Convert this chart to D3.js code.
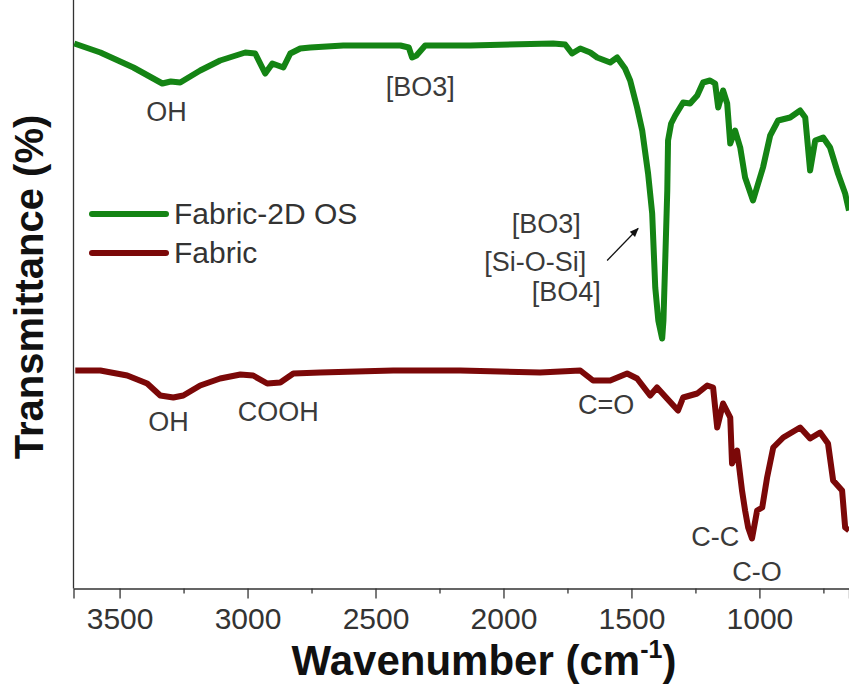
<!DOCTYPE html>
<html>
<head>
<meta charset="utf-8">
<script src="https://cdn.jsdelivr.net/npm/d3@7"></script>
<style>
  body { margin: 0; background: #fff; }
  svg text { font-family: "Liberation Sans", Arial, sans-serif; }
</style>
</head>
<body>
<div id="chart"></div>
<script>
// FTIR spectra, wavenumber (cm-1) and transmittance (arbitrary, offset)
var wnGreen = [3677, 3575, 3446, 3333, 3300, 3263, 3185, 3107, 3009, 2970, 2931, 2903, 2860, 2833, 2794, 2755, 2626,
    2403, 2370, 2357, 2340, 2306, 2130, 1806, 1759, 1732, 1700, 1661, 1634, 1583, 1556, 1525, 1505, 1478, 1458,
    1435, 1419, 1407, 1395, 1380, 1375, 1368, 1360, 1357, 1345, 1329, 1298, 1271, 1243, 1220, 1193, 1173, 1161,
    1142, 1126, 1114, 1095, 1075, 1056, 1025, 1005, 986, 958, 927, 880, 841, 821, 802, 782, 751, 724, 693, 665, 650];
var tGreen = [109.0, 107.2, 104.2, 101.0, 101.4, 101.2, 103.6, 105.6, 107.2, 107.0, 103.0, 105.0, 104.2, 107.0, 108.0, 108.2, 108.6,
    108.6, 108.2, 106.2, 106.6, 108.6, 108.6, 109.0, 108.8, 107.0, 108.0, 107.2, 106.2, 105.2, 106.2, 104.0, 101.6, 96.2, 91.6,
    83.0, 75.0, 60.2, 53.6, 50.0, 53.6, 65.6, 79.6, 89.6, 93.0, 94.6, 97.2, 97.0, 98.6, 101.2, 101.6, 101.0, 96.2,
    99.6, 97.0, 89.0, 91.6, 88.2, 82.2, 77.6, 81.0, 84.2, 90.6, 93.6, 94.2, 95.6, 94.2, 83.6, 89.6, 90.2, 88.2, 83.0, 79.0, 75.6];

var wnFabric = [3673, 3575, 3470, 3392, 3341, 3290, 3251, 3185, 3107, 3028, 2978, 2923, 2872, 2821, 2716, 2431, 2169,
    1857, 1700, 1650, 1583, 1517, 1478, 1427, 1400, 1361, 1318, 1298, 1243, 1204, 1181, 1165, 1142, 1114, 1107,
    1087, 1068, 1056, 1044, 1029, 1009, 989, 970, 946, 907, 841, 802, 763, 732, 712, 677, 665, 650];
var tFabric = [43.6, 43.6, 42.6, 41.0, 38.6, 38.2, 38.6, 40.6, 42.0, 42.8, 42.6, 41.0, 41.2, 43.0, 43.2, 43.6, 43.6,
    43.2, 43.6, 41.6, 41.6, 43.0, 42.0, 38.6, 40.2, 38.0, 35.6, 38.2, 39.0, 40.6, 40.2, 32.2, 37.0, 34.2, 25.0,
    27.6, 19.6, 15.6, 12.2, 10.0, 15.6, 16.2, 22.2, 28.2, 30.2, 32.2, 30.0, 31.2, 29.0, 21.6, 19.6, 12.2, 11.6];

var seriesNames = ['Fabric-2D OS', 'Fabric'];
var seriesColors = ['#148414', '#7b0808'];
var xTicks = [3500, 3000, 2500, 2000, 1500, 1000];
var xMinorTicks = [3250, 2750, 2250, 1750, 1250, 750];

// peak labels: text, wavenumber, transmittance
var peakText = ['OH', '[BO3]', '[BO3]', '[Si-O-Si]', '[BO4]', 'OH', 'COOH', 'C=O', 'C-C', 'C-O'];
var peakWn   = [3317, 2325, 1833, 1876, 1755, 3309, 2880, 1599, 1173, 1009];
var peakT    = [93.6, 98.6, 71.2, 63.6, 57.6, 31.6, 33.6, 35.0, 8.6, 1.6];

var svgWidth = 849, svgHeight = 692;
var svg = d3.select('#chart').append('svg')
    .attr('width', svgWidth)
    .attr('height', svgHeight);

var x = d3.scaleLinear().domain([3680, 650]).range([73.5, 849]);
var y = d3.scaleLinear().domain([0, 110]).range([588.5, 38.5]);

// axes
svg.append('line')
    .attr('x1', 73.5).attr('x2', 73.5)
    .attr('y1', 0).attr('y2', 588.5)
    .attr('stroke', '#333').attr('stroke-width', 1.3);

var xAxis = svg.append('g')
    .attr('transform', 'translate(0,588.5)')
    .call(d3.axisBottom(x).tickValues(xTicks).tickSize(10).tickFormat(d3.format('d')));
xAxis.select('.domain').attr('stroke', '#333').attr('stroke-width', 1.3);
xAxis.selectAll('.tick line').attr('stroke', '#333').attr('stroke-width', 1.3);
xAxis.selectAll('.tick text')
    .attr('fill', '#333')
    .style('font-size', '30px')
    .attr('y', 40)
    .attr('dy', 0);

svg.append('g')
    .attr('transform', 'translate(0,588.5)')
    .call(d3.axisBottom(x).tickValues(xMinorTicks).tickSize(5).tickFormat(''))
    .call(function(g) {
        g.select('.domain').remove();
        g.selectAll('.tick line').attr('stroke', '#333').attr('stroke-width', 1.3);
    });

// spectra
var line = d3.line()
    .x(function(d) { return x(d[0]); })
    .y(function(d) { return y(d[1]); });

var series = [d3.zip(wnGreen, tGreen), d3.zip(wnFabric, tFabric)];

svg.selectAll('.spectrum')
    .data(series)
    .enter().append('path')
    .attr('class', 'spectrum')
    .attr('d', line)
    .attr('fill', 'none')
    .attr('stroke', function(d, i) { return seriesColors[i]; })
    .attr('stroke-width', 6)
    .attr('stroke-linejoin', 'round');

// peak labels
svg.selectAll('.peak')
    .data(peakText)
    .enter().append('text')
    .attr('class', 'peak')
    .attr('x', function(d, i) { return x(peakWn[i]); })
    .attr('y', function(d, i) { return y(peakT[i]); })
    .attr('text-anchor', 'middle')
    .attr('fill', '#3a3a3a')
    .style('font-size', '27px')
    .text(function(d) { return d; });

// arrow to the BO3 band
svg.append('defs').append('marker')
    .attr('id', 'head')
    .attr('viewBox', '0 0 10 10')
    .attr('refX', 9).attr('refY', 5)
    .attr('markerWidth', 9).attr('markerHeight', 7)
    .attr('orient', 'auto')
    .append('path')
    .attr('d', 'M0,1 L10,5 L0,9 Z')
    .attr('fill', '#111');

svg.append('line')
    .attr('x1', x(1595)).attr('y1', y(65.6))
    .attr('x2', x(1474)).attr('y2', y(72.0))
    .attr('stroke', '#111')
    .attr('stroke-width', 1.3)
    .attr('marker-end', 'url(#head)');

// legend
var legendG = svg.selectAll('.legend')
    .data(seriesNames)
    .enter().append('g')
    .attr('class', 'legend')
    .attr('transform', function(d, i) { return 'translate(92,' + (214 + i * 39) + ')'; });

legendG.append('line')
    .attr('x1', 0).attr('x2', 74)
    .attr('stroke', function(d, i) { return seriesColors[i]; })
    .attr('stroke-width', 6)
    .attr('stroke-linecap', 'round');

legendG.append('text')
    .attr('x', 82)
    .attr('y', 10)
    .attr('fill', '#333')
    .style('font-size', '30px')
    .text(function(d) { return d; });

// axis titles
svg.append('text')
    .attr('transform', 'translate(43,287) rotate(-90)')
    .attr('text-anchor', 'middle')
    .style('font-size', '40px')
    .style('font-weight', 'bold')
    .attr('fill', '#111')
    .text('Transmittance (%)');

var xTitle = svg.append('text')
    .attr('x', 484)
    .attr('y', 675)
    .attr('text-anchor', 'middle')
    .style('font-size', '42px')
    .style('font-weight', 'bold')
    .attr('fill', '#111');
xTitle.append('tspan').text('Wavenumber (cm');
xTitle.append('tspan').attr('dy', -17).style('font-size', '25px').text('-1');
xTitle.append('tspan').attr('dy', 17).text(')');
</script>
</body>
</html>
